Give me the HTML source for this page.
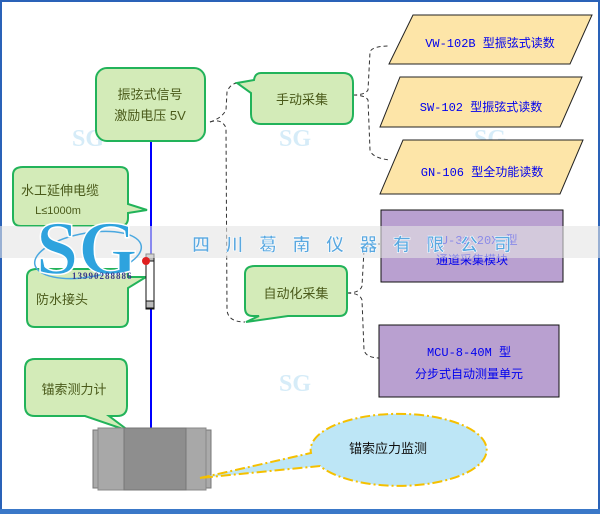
<!DOCTYPE html>
<html><head><meta charset="utf-8"><style>
html,body{margin:0;padding:0;background:#fff}
svg{display:block}
.s{font-family:"Liberation Sans","Noto Sans CJK SC",sans-serif}
.m{font-family:"Liberation Mono","Noto Sans CJK SC",monospace}
.r{font-family:"Liberation Serif","Noto Serif CJK SC",serif}
</style></head><body>
<svg width="600" height="514" viewBox="0 0 600 514" xmlns="http://www.w3.org/2000/svg">
<rect x="0" y="0" width="600" height="514" fill="#fff"/>
<rect x="0" y="0" width="600" height="2" fill="#2a62b8"/>
<rect x="0" y="0" width="2" height="514" fill="#2a62b8"/>
<rect x="598" y="0" width="2" height="514" fill="#2a62b8"/>
<rect x="0" y="509" width="600" height="5" fill="#3a78c8"/>

<g fill="#d6ecf8" font-weight="bold" class="r">
<text x="72" y="146" font-size="24">SG</text>
<text x="279" y="146" font-size="24">SG</text>
<text x="279" y="391" font-size="24">SG</text>
<text x="72" y="391" font-size="24">SG</text>
<text x="474" y="146" font-size="24">SG</text>
<text x="476" y="391" font-size="24">SG</text>
</g>

<line x1="151" y1="141" x2="151" y2="430" stroke="#0000ff" stroke-width="2"/>

<g fill="none" stroke="#333" stroke-width="1" stroke-dasharray="4,3">
<path d="M210 122 Q222 118 226 128 L227 310 Q228 322 245 322"/>
<path d="M210 122 Q222 118 226 110 L227 92 Q230 84 237 83"/>
<path d="M353 95 Q365 95 368 100 L370 150 Q372 158 390 160"/>
<path d="M353 95 Q365 95 368 90 L370 52 Q372 46 390 46"/>
<path d="M347 293 Q360 293 362 300 L364 350 Q366 358 380 358"/>
<path d="M347 293 Q360 293 362 286 L364 250 Q366 244 380 244"/>
</g>

<g fill="#d3ebb8" stroke="#22b35a" stroke-width="2">
<rect x="96" y="68" width="109" height="73" rx="11"/>
<path d="M261 73 H343 Q353 73 353 83 V114 Q353 124 343 124 H261 Q251 124 251 114 V93 L237 83 L254 80 Q255 73 261 73Z"/>
<path d="M23 167 H120 Q128 167 128 175 V204 L147 210 L128 213 V218 Q128 226 120 226 H21 Q13 226 13 218 V175 Q13 167 23 167Z"/>
<path d="M37 269 H120 Q128 269 128 277 L146 277 L128 288 V319 Q128 327 120 327 H35 Q27 327 27 319 V277 Q27 269 37 269Z"/>
<path d="M255 266 H339 Q347 266 347 274 V308 Q347 316 339 316 H288 L246 322 L259 316 H253 Q245 316 245 308 V274 Q245 266 255 266Z"/>
<path d="M35 359 H119 Q127 359 127 369 V406 Q127 416 117 416 H109 L129 431 L85 416 H35 Q25 416 25 406 V369 Q25 359 35 359Z"/>
</g>
<g fill="#4a5a1a" font-size="13" text-anchor="middle" class="s">
<text x="150" y="99">振弦式信号</text>
<text x="150" y="120">激励电压 5V</text>
<text x="302" y="104">手动采集</text>
<text x="60" y="195">水工延伸电缆</text>
<text x="58" y="214" font-size="11">L≤1000m</text>
<text x="62" y="304">防水接头</text>
<text x="296" y="298">自动化采集</text>
<text x="74" y="394">锚索测力计</text>
</g>

<g fill="#fde5a8" stroke="#222" stroke-width="1">
<polygon points="413,15 592,15 570,64 389,64"/>
<polygon points="400,77 582,77 560,127 380,127"/>
<polygon points="403,140 583,140 560,194 380,194"/>
</g>
<g fill="#0000ee" font-size="12" text-anchor="middle" class="m">
<text x="490" y="47">VW-102B 型振弦式读数</text>
<text x="481" y="111">SW-102 型振弦式读数</text>
<text x="482" y="176">GN-106 型全功能读数</text>
</g>

<g fill="#b9a0d0" stroke="#111" stroke-width="1">
<rect x="381" y="210" width="182" height="72"/>
<rect x="379" y="325" width="180" height="72"/>
</g>
<g fill="#0000ee" font-size="12" text-anchor="middle" class="m">
<text x="472" y="244">MCU-32-20X 型</text>
<text x="472" y="264">通道采集模块</text>
<text x="469" y="356">MCU-8-40M 型</text>
<text x="469" y="378">分步式自动测量单元</text>
</g>

<rect x="146" y="254" width="8" height="55" fill="#fff" stroke="#111"/>
<rect x="146" y="254" width="8" height="7" fill="#bbb" stroke="#111"/>
<rect x="146" y="301" width="8" height="7" fill="#bbb" stroke="#111"/>

<rect x="93" y="430" width="118" height="58" fill="#aaa" stroke="#777"/>
<rect x="98" y="428" width="108" height="62" fill="#a8a8a8" stroke="#888"/>
<rect x="124" y="428" width="62" height="62" fill="#8e8e8e" stroke="#777"/>

<path d="M200 478 L311 453 A88 36 0 1 1 320 466 Z" fill="#bde6f6" stroke="#f5c000" stroke-width="2" stroke-dasharray="10,3,2,3"/>
<text x="388" y="453" font-size="13" fill="#111" text-anchor="middle" class="s">锚索应力监测</text>

<rect x="0" y="226" width="600" height="32" fill="#e4e4e4" opacity="0.6"/>
<g fill="#5aa8e0" font-size="18" font-weight="bold" stroke="#fff" stroke-width="0.6" class="s">
<text x="192" y="251" letter-spacing="15.5">四川葛南仪器有限公司</text>
</g>
<ellipse cx="88" cy="255" rx="54" ry="22" fill="none" stroke="#4aa8e0" stroke-width="1.5" transform="rotate(-10 88 255)"/>
<text x="36" y="274" font-size="76" font-weight="bold" fill="#2ea3de" stroke="#fff" stroke-width="1.5" class="r">SG</text>
<circle cx="146" cy="261" r="4" fill="#e02020"/>
<text x="72" y="279" font-size="9" font-weight="bold" fill="#3a3a8a" letter-spacing="1" class="r">13990288886</text>
</svg>
</body></html>
